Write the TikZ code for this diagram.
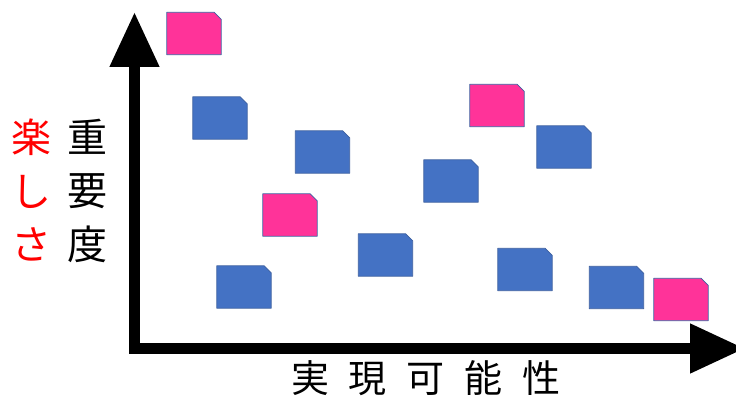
\documentclass[tikz,border=0pt]{standalone}
\usepackage{fontspec}
\newfontfamily\jpfont{Noto Sans CJK JP}
\usetikzlibrary{arrows.meta}
\definecolor{cardpink}{RGB}{255,51,153}
\definecolor{cardblue}{RGB}{68,114,196}
\definecolor{cardedge}{RGB}{60,95,160}
\tikzset{
	card/.style={minimum width=54pt, minimum height=42pt, inner sep=0pt,
		append after command={\pgfextra{\filldraw[fill=#1, draw=cardedge, line width=0.8pt]
			(\tikzlastnode.south west) -- (\tikzlastnode.north west)
			-- ([xshift=-7pt]\tikzlastnode.north east)
			-- ([yshift=-7pt]\tikzlastnode.north east)
			-- (\tikzlastnode.south east) -- cycle;}}},
	pinkcard/.style={card=cardpink},
	bluecard/.style={card=cardblue},
	bigjp/.style={font=\jpfont\fontsize{40}{53.5}\selectfont, align=center, inner sep=0pt},
}
\begin{document}
\begin{tikzpicture}[x=1pt, y=-1pt, line join=round, >={Triangle[length=55pt,width=47pt]}]
	\useasboundingbox (0,0) rectangle (736,401); % page
	% axes
	\coordinate (O) at (134.5,348.5);
	\coordinate (Ytip) at (134.5,12);
	\coordinate (Xtip) at (745,348.5);
	\draw[line width=11pt, line join=miter, <->] (Ytip) -- (O) -- (Xtip);
	% cards
	\node[pinkcard] (p1) at (194,33.5) {};
	\node[bluecard] (b1) at (220,118) {};
	\node[bluecard] (b2) at (322.5,152) {};
	\node[pinkcard] (p2) at (290,215) {};
	\node[bluecard] (b3) at (244,287) {};
	\node[bluecard] (b4) at (385.5,255) {};
	\node[bluecard] (b5) at (451,181) {};
	\node[pinkcard] (p3) at (497,105.5) {};
	\node[bluecard] (b6) at (564,147) {};
	\node[bluecard] (b7) at (525,269.5) {};
	\node[bluecard] (b8) at (616.5,287.5) {};
	\node[pinkcard] (p4) at (681,299.5) {};
	% labels
	\node[bigjp, text=red] (fun) at (32,190.5) {楽\\し\\さ};
	\node[bigjp] (imp) at (87,190.5) {重\\要\\度};
	\node[bigjp, font=\jpfont\fontsize{38}{40}\selectfont] (feas) at (426,378)
		{実\hspace{20pt}現\hspace{20pt}可\hspace{20pt}能\hspace{20pt}性};
\end{tikzpicture}
\end{document}
